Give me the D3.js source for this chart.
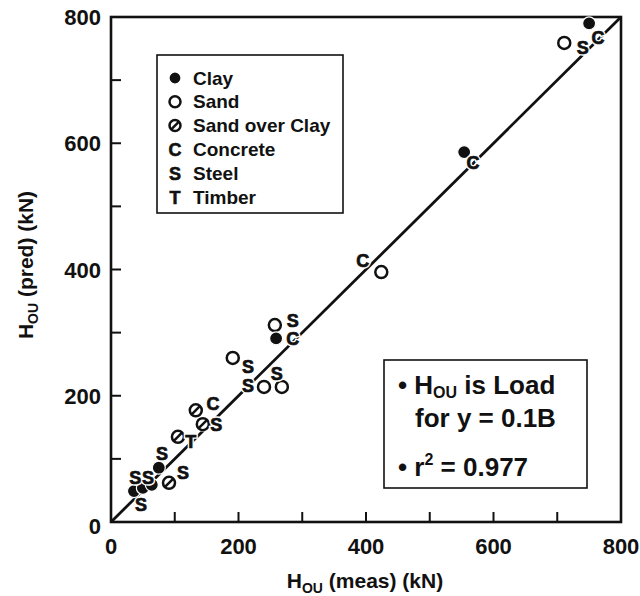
<!DOCTYPE html>
<html>
<head>
<meta charset="utf-8">
<script src="https://cdn.jsdelivr.net/npm/d3@7"></script>
<style>
  body { margin: 0; background: #fff; }
  svg { font-family: "Liberation Sans", Arial, sans-serif; }
</style>
</head>
<body>
<svg id="chart"></svg>
<script>
// soil type markers, [H meas, H pred] in kN
var clayPts = [[750, 790], [554, 586], [259, 291], [75, 86], [36, 49], [50, 54], [64, 59]];
var sandPts = [[711, 759], [424, 396], [257, 312], [191, 260], [240, 214], [268, 214]];
var sandClayPts = [[133, 177], [144, 155], [105, 135], [91, 62]];

// pile type letters, [letter, H meas, H pred]
var pileLetters = [
  ['C', 764, 768], ['S', 740, 751], ['C', 568, 569], ['C', 395, 415],
  ['S', 285, 320], ['C', 285, 290], ['S', 215, 247], ['S', 260, 236],
  ['S', 215, 217], ['C', 160, 187], ['S', 165, 155], ['T', 125, 127],
  ['S', 80, 108], ['S', 113, 78], ['S', 38, 71], ['S', 58, 71], ['S', 47, 27]
];

// axes
var axisDomain = [0, 800];
var labelTicks = [0, 200, 400, 600, 800];
var markTicks = [100, 200, 300, 400, 500, 600, 700];

// legend entries
var legendItems = [
  {sym: 'clay', text: 'Clay'},
  {sym: 'sand', text: 'Sand'},
  {sym: 'sandclay', text: 'Sand over Clay'},
  {sym: 'C', text: 'Concrete'},
  {sym: 'S', text: 'Steel'},
  {sym: 'T', text: 'Timber'}
];

var width = 640;
var height = 596;
var margin = {top: 17, right: 19, bottom: 74, left: 111};

var svg = d3.select('#chart')
  .attr('width', width)
  .attr('height', height);

var x = d3.scaleLinear().domain(axisDomain).range([margin.left, width - margin.right]);
var y = d3.scaleLinear().domain(axisDomain).range([height - margin.bottom, margin.top]);

var ink = '#111';

// 1:1 line
svg.append('line')
  .attr('x1', x(0)).attr('y1', y(0))
  .attr('x2', x(800)).attr('y2', y(800))
  .attr('stroke', ink)
  .attr('stroke-width', 2.8);

// frame
svg.append('rect')
  .attr('x', x(0)).attr('y', y(800))
  .attr('width', x(800) - x(0))
  .attr('height', y(0) - y(800))
  .attr('fill', 'none')
  .attr('stroke', ink)
  .attr('stroke-width', 2.6);

// inward ticks
svg.selectAll('line.xtick')
  .data(markTicks)
  .enter()
  .append('line')
    .attr('class', 'xtick')
    .attr('x1', function(d) { return x(d); })
    .attr('x2', function(d) { return x(d); })
    .attr('y1', y(0))
    .attr('y2', y(0) - 10)
    .attr('stroke', ink)
    .attr('stroke-width', 2);

svg.selectAll('line.ytick')
  .data(markTicks)
  .enter()
  .append('line')
    .attr('class', 'ytick')
    .attr('x1', x(0))
    .attr('x2', x(0) + 10)
    .attr('y1', function(d) { return y(d); })
    .attr('y2', function(d) { return y(d); })
    .attr('stroke', ink)
    .attr('stroke-width', 2);

// tick labels
svg.selectAll('text.xlab')
  .data(labelTicks)
  .enter()
  .append('text')
    .attr('class', 'xlab')
    .attr('x', function(d) { return x(d); })
    .attr('y', 554)
    .attr('text-anchor', 'middle')
    .attr('font-size', 22)
    .attr('font-weight', 'bold')
    .attr('fill', ink)
    .text(function(d) { return d; });

svg.selectAll('text.ylab')
  .data(labelTicks)
  .enter()
  .append('text')
    .attr('class', 'ylab')
    .attr('x', 101)
    .attr('y', function(d) { return d === 0 ? y(d) + 12 : y(d) + 8; })
    .attr('text-anchor', 'end')
    .attr('font-size', 22)
    .attr('font-weight', 'bold')
    .attr('fill', ink)
    .text(function(d) { return d; });

// axis titles with subscript
function titleText(sel, rest) {
  sel.append('tspan').text('H');
  sel.append('tspan').attr('font-size', 14).attr('dy', 5).text('OU');
  sel.append('tspan').attr('dy', -5).text(rest);
}

svg.append('text')
  .attr('x', 365)
  .attr('y', 588)
  .attr('text-anchor', 'middle')
  .attr('font-size', 21)
  .attr('font-weight', 'bold')
  .attr('fill', ink)
  .call(titleText, ' (meas) (kN)');

svg.append('text')
  .attr('transform', 'translate(33,265) rotate(-90)')
  .attr('text-anchor', 'middle')
  .attr('font-size', 21)
  .attr('font-weight', 'bold')
  .attr('fill', ink)
  .call(titleText, ' (pred) (kN)');

// marker drawing
function drawMarker(g, type, r) {
  if (type === 'clay') {
    g.append('circle').attr('r', r + 0.5).attr('fill', ink).attr('stroke', '#fff').attr('stroke-width', 1.2);
  } else {
    g.append('circle').attr('r', r + 1.5).attr('fill', '#fff');
    g.append('circle').attr('r', r).attr('fill', '#fff').attr('stroke', ink).attr('stroke-width', 2.5);
    if (type === 'sandclay') {
      g.append('line')
        .attr('x1', -r * 0.72).attr('y1', r * 0.72)
        .attr('x2', r * 0.72).attr('y2', -r * 0.72)
        .attr('stroke', ink).attr('stroke-width', 2.5);
    }
  }
}

function drawPoints(data, type) {
  svg.append('g')
    .selectAll('g')
    .data(data)
    .enter()
    .append('g')
      .attr('transform', function(d) { return 'translate(' + x(d[0]) + ',' + y(d[1]) + ')'; })
      .each(function() { drawMarker(d3.select(this), type, 6); });
}

drawPoints(sandPts, 'sand');
drawPoints(sandClayPts, 'sandclay');
drawPoints(clayPts, 'clay');

// pile letters (white halo breaks the line like the original)
var letterG = svg.append('g');
letterG.selectAll('text.halo')
  .data(pileLetters)
  .enter()
  .append('text')
    .attr('class', 'halo')
    .attr('x', function(d) { return x(d[1]); })
    .attr('y', function(d) { return y(d[2]) + 6.5; })
    .attr('text-anchor', 'middle')
    .attr('font-size', 18)
    .attr('font-weight', 'bold')
    .attr('fill', '#fff')
    .attr('stroke', '#fff')
    .attr('stroke-width', 3.5)
    .text(function(d) { return d[0]; });
letterG.selectAll('text.let')
  .data(pileLetters)
  .enter()
  .append('text')
    .attr('class', 'let')
    .attr('x', function(d) { return x(d[1]); })
    .attr('y', function(d) { return y(d[2]) + 6.5; })
    .attr('text-anchor', 'middle')
    .attr('font-size', 18)
    .attr('font-weight', 'bold')
    .attr('fill', ink)
    .attr('stroke', ink)
    .attr('stroke-width', 0.7)
    .text(function(d) { return d[0]; });

// legend
var legend = svg.append('g');
legend.append('rect')
  .attr('x', 157).attr('y', 55)
  .attr('width', 186).attr('height', 158)
  .attr('fill', '#fff')
  .attr('stroke', ink)
  .attr('stroke-width', 1.6);

var rowY = d3.scalePoint().domain(d3.range(legendItems.length)).range([78, 197]);

legendItems.forEach(function(item, i) {
  var cy = rowY(i);
  if (item.sym.length === 1) {
    legend.append('text')
      .attr('x', 175).attr('y', cy + 6.5)
      .attr('text-anchor', 'middle')
      .attr('font-size', 18)
      .attr('font-weight', 'bold')
      .attr('fill', ink)
      .attr('stroke', ink)
      .attr('stroke-width', 0.6)
      .text(item.sym);
  } else {
    var g = legend.append('g').attr('transform', 'translate(175,' + cy + ')');
    drawMarker(g, item.sym, 5.5);
  }
  legend.append('text')
    .attr('x', 193).attr('y', cy + 6.5)
    .attr('font-size', 19)
    .attr('font-weight', 'bold')
    .attr('fill', ink)
    .text(item.text);
});

// note box
var note = svg.append('g');
note.append('rect')
  .attr('x', 384).attr('y', 360)
  .attr('width', 203).attr('height', 128)
  .attr('fill', '#fff')
  .attr('stroke', ink)
  .attr('stroke-width', 1.6);

var line1 = note.append('text')
  .attr('x', 398).attr('y', 394)
  .attr('font-size', 26)
  .attr('font-weight', 'bold')
  .attr('fill', ink);
line1.append('tspan').text('\u2022 H');
line1.append('tspan').attr('font-size', 16).attr('dy', 4).text('OU');
line1.append('tspan').attr('dy', -4).text(' is Load');

note.append('text')
  .attr('x', 415).attr('y', 427)
  .attr('font-size', 26)
  .attr('font-weight', 'bold')
  .attr('fill', ink)
  .text('for y = 0.1B');

var line3 = note.append('text')
  .attr('x', 398).attr('y', 476)
  .attr('font-size', 26)
  .attr('font-weight', 'bold')
  .attr('fill', ink);
line3.append('tspan').text('\u2022 r');
line3.append('tspan').attr('font-size', 16).attr('dy', -11).text('2');
line3.append('tspan').attr('dy', 11).text(' = 0.977');
</script>
</body>
</html>
